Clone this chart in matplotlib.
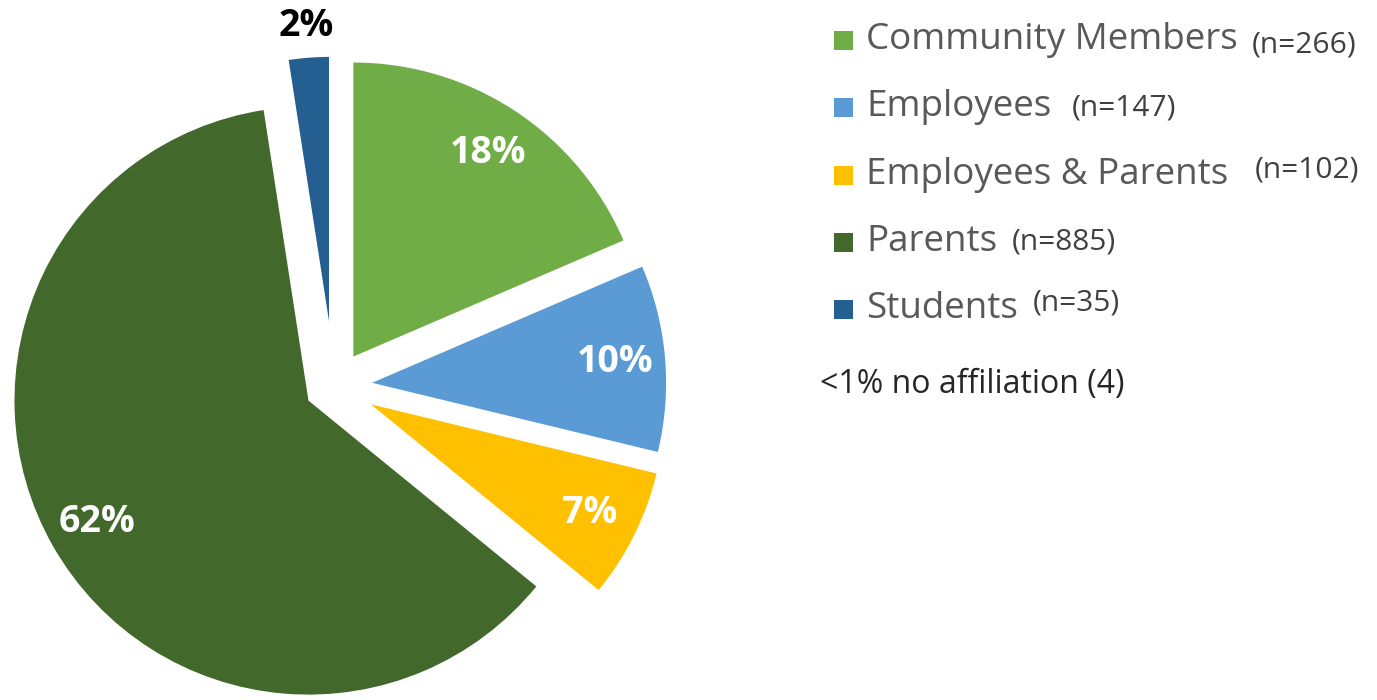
import matplotlib
matplotlib.use("Agg")
import matplotlib.pyplot as plt
from matplotlib.patches import Rectangle
import numpy as np

groups = ["Community Members", "Employees", "Employees & Parents", "Parents", "Students"]
counts = [266, 147, 102, 885, 35]
no_affiliation = 4
n_labels = ["(n=266)", "(n=147)", "(n=102)", "(n=885)", "(n=35)"]
note = "<1% no affiliation (4)"

colors = ["#70AD47", "#5B9BD5", "#FFC000", "#43682B", "#255E91"]
explode_frac = [0.12, 0.13, 0.14, 0.10, 0.22]

plt.rcParams["font.family"] = ["Open Sans", "DejaVu Sans"]

W, H = 1377, 700
fig = plt.figure(figsize=(W / 100, H / 100), dpi=100)
ax = fig.add_axes([0, 0, 1, 1])

# percentages are of all respondents, including the 4 with no affiliation
share = sum(counts) / (sum(counts) + no_affiliation)

R = 294
wedges, _, pcts = ax.pie(
    counts, colors=colors, explode=[e * R for e in explode_frac],
    startangle=90, counterclock=False, center=(334, H - 386), radius=R,
    autopct=lambda p: f"{p * share:.0f}%", pctdistance=0.83,
    textprops=dict(color="white", fontsize=27, fontweight="bold"),
    wedgeprops=dict(linewidth=0),
)

# the small students slice is drawn shorter and labelled outside in black
st = wedges[-1]
st.set_radius(R * 0.9)
mid = np.deg2rad((st.theta1 + st.theta2) / 2)
cx, cy = st.center
pcts[-1].set_position((cx + 1.12 * st.r * np.cos(mid), cy + 1.12 * st.r * np.sin(mid)))
pcts[-1].set_color("black")

ax.set_xlim(0, W)
ax.set_ylim(0, H)
ax.axis("off")

# legend built by hand
rows = [40, 107, 175, 242, 309]
n_pos = [(1252, 45), (1072, 108), (1255, 170), (1012, 242), (1033, 303)]
for g, c, n, y, (nx, ny) in zip(groups, colors, n_labels, rows, n_pos):
    ax.add_patch(Rectangle((834, H - y - 9.5), 19, 19, facecolor=c, edgecolor="none"))
    ax.text(866, H - y, g, fontsize=26.5, color="#595959", va="center", ha="left")
    ax.text(nx, H - ny, n, fontsize=21.5, color="#404040", va="center", ha="left")

ax.text(820, H - 385, note, fontsize=23, color="#262626", va="center", ha="left")

fig.savefig("out.png", dpi=100)
